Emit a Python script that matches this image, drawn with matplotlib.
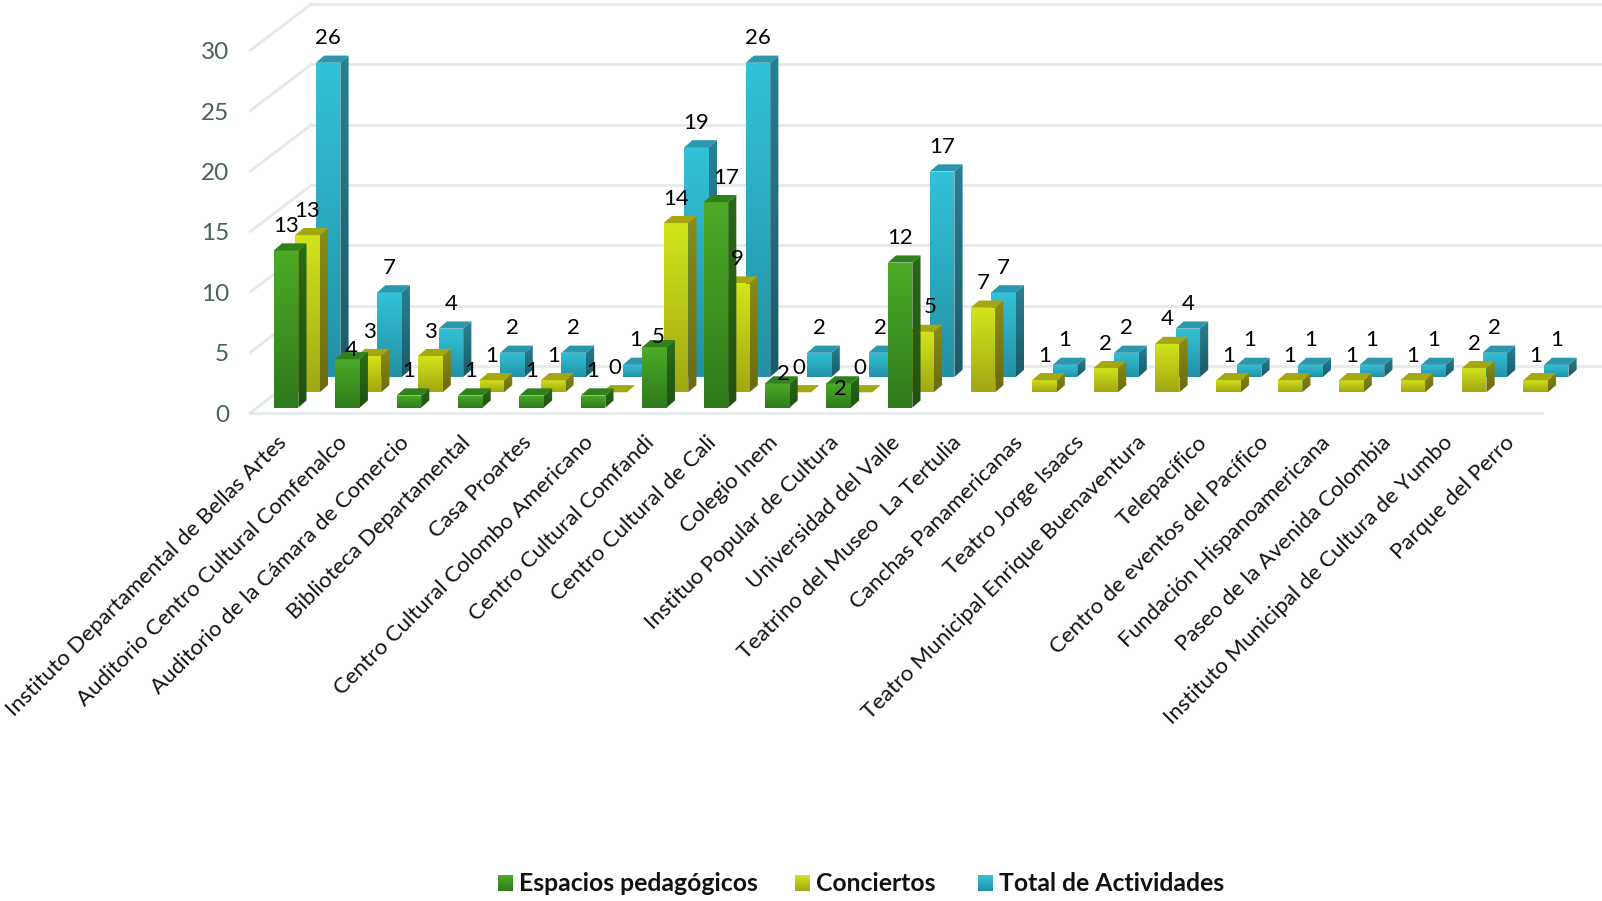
import numpy as np
import matplotlib
matplotlib.use('Agg')
import matplotlib.pyplot as plt
from matplotlib.colors import to_rgb
from matplotlib.patches import Polygon

plt.rcParams['font.family'] = ['Lato', 'DejaVu Sans']

categories = ['Instituto Departamental de Bellas Artes', 'Auditorio Centro Cultural Comfenalco',
              'Auditorio de la Cámara de Comercio', 'Biblioteca Departamental', 'Casa Proartes',
              'Centro Cultural Colombo Americano', 'Centro Cultural Comfandi', 'Centro Cultural de Cali',
              'Colegio Inem', 'Instituo Popular de Cultura', 'Universidad del Valle',
              'Teatrino del Museo  La Tertulia', 'Canchas Panamericanas', 'Teatro Jorge Isaacs',
              'Teatro Municipal Enrique Buenaventura', 'Telepacífico', 'Centro de eventos del Pacífico',
              'Fundación Hispanoamericana', 'Paseo de la Avenida Colombia',
              'Instituto Municipal de Cultura de Yumbo', 'Parque del Perro']
espacios = [13, 4, 1, 1, 1, 1, 5, 17, 2, 2, 12]
conciertos = [13, 3, 3, 1, 1, 0, 14, 9, 0, 0, 5, 7, 1, 2, 4, 1, 1, 1, 1, 2, 1]
total = [26, 7, 4, 2, 2, 1, 19, 26, 2, 2, 17, 7, 1, 2, 4, 1, 1, 1, 1, 2, 1]
yticks = [0, 5, 10, 15, 20, 25, 30]

# pixel scale of the picture (shrunk coords, 1568 wide)
W, H = 1568, 882
PX = 60.1    # px per category
PY = 11.83   # px per unit
X0, Y0 = 280, 404

fig = plt.figure(figsize=(16.02, 9.01), dpi=100)
ax = fig.add_axes([0, 0, 1, 1])
xlim = (-X0 / PX, (W - X0) / PX)
ylim = ((Y0 - H) / PY, Y0 / PY)
ax.axis('off')


def dx(p):
    return p / PX


def dy(p):
    return p / PY


def grad_poly(verts, top, bottom, z):
    verts = np.array(verts)
    g = np.linspace(0, 1, 64)[:, None, None]
    img = (1 - g) * np.array(to_rgb(top))[None, None, :] + g * np.array(to_rgb(bottom))[None, None, :]
    ext = [verts[:, 0].min(), verts[:, 0].max(), verts[:, 1].min(), verts[:, 1].max()]
    im = ax.imshow(img, extent=ext, aspect='auto', zorder=z, interpolation='bilinear')
    im.set_clip_path(Polygon(verts, transform=ax.transData))


# walls
grid_c = '#E3EBE9'
back_dx, back_dy = dx(60), dy(45.5)
for v in yticks:
    ax.plot([-0.58, -0.58 + back_dx], [v, v + back_dy], color=grid_c, lw=2, zorder=0)
    ax.plot([-0.58 + back_dx, xlim[1]], [v + back_dy, v + back_dy], color=grid_c, lw=2, zorder=0)
    ax.text(-0.58 - dx(21), v - dy(2.5), str(v), ha='right', va='center', fontsize=17.5, color='#47635A')
ax.plot([-0.58, 20.45], [0, 0], color=grid_c, lw=2, zorder=0)

series = [
    (total, 0.685, 35, '#32C2D9', '#2391A6', '#278093', '#1B5A68', '#2A97AD', 1),
    (conciertos, 0.35, 20, '#D2E51A', '#A0A814', '#8A8C14', '#6C6A10', '#A5A711', 2),
    (espacios, 0.0, 5, '#4CAB27', '#2F7A1C', '#2A6A17', '#1F5212', '#30801C', 3),
]
bar_w = dx(24)
side_x, side_y = dx(8), dy(7)

# hand-placed labels in the original: (series z, category) -> pixel shift
label_shift = {(3, 7): (10, 0), (3, 6): (4, 14), (3, 1): (4, 15), (3, 8): (6, 15), (3, 9): (2, 29),
               (2, 10): (8, 0)}

for values, off, base_px, c_top, c_bot, s_top, s_bot, t_col, z in series:
    base = dy(base_px)
    for i, v in enumerate(values):
        x0 = i + off - bar_w / 2
        x1 = x0 + bar_w
        b = base
        t = base + v
        if v > 0:
            grad_poly([(x0, b), (x1, b), (x1, t), (x0, t)], c_top, c_bot, z)
            grad_poly([(x1, b), (x1 + side_x, b + side_y), (x1 + side_x, t + side_y), (x1, t)], s_top, s_bot, z)
        ax.add_patch(Polygon([(x0, t), (x1, t), (x1 + side_x, t + side_y), (x0 + side_x, t + side_y)],
                             fc=t_col, ec='none', zorder=z))
        sx, sy = label_shift.get((z, i), (0, 0))
        ax.text(i + off + dx(sx), t + dy(24 - sy), str(v), ha='center', va='center', fontsize=16,
                color='black', zorder=6)

# category labels
for i, name in enumerate(categories):
    ax.text(i - dx(3), dy(-26), name, rotation=45, rotation_mode='anchor', ha='right', va='center',
            fontsize=16, color='#111111')

# legend
legend_items = [('Espacios pedagógicos', 487, '#4CAB27', '#2F7A1C'), ('Conciertos', 778, '#D2E51A', '#A0A814'),
                ('Total de Actividades', 957, '#32C2D9', '#2391A6')]
for name, px, c_top, c_bot in legend_items:
    x0 = (px - X0) / PX
    x1 = x0 + dx(15)
    y1 = (Y0 - 857) / PY
    y0 = (Y0 - 872) / PY
    grad_poly([(x0, y0), (x1, y0), (x1, y1), (x0, y1)], c_top, c_bot, 3)
    ax.text(x1 + dx(6), (y0 + y1) / 2 - dy(0.5), name, ha='left', va='center', fontsize=17.8, fontweight='bold',
            color='#111111')

ax.set_xlim(xlim)
ax.set_ylim(ylim)
fig.savefig('out.png', dpi=100)
